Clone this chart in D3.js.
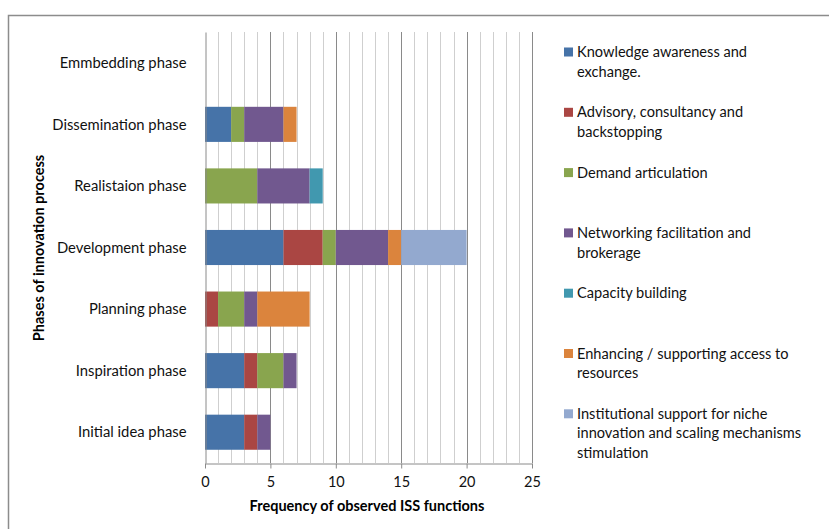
<!DOCTYPE html>
<html>
<head>
<meta charset="utf-8">
<script src="https://cdn.jsdelivr.net/npm/d3@7"></script>
<style>
  html, body { margin: 0; padding: 0; background: #fff; }
  svg { display: block; font-family: Lato, "Liberation Sans", sans-serif; }
</style>
</head>
<body>
<svg id="chart" width="829" height="529"></svg>
<script>
// Innovation phases, listed top to bottom
const phases = [
  "Emmbedding phase",
  "Dissemination phase",
  "Realistaion phase",
  "Development phase",
  "Planning phase",
  "Inspiration phase",
  "Initial idea phase"
];

// ISS function series (stack order)
const functions = [
  "Knowledge awareness and exchange.",
  "Advisory, consultancy and backstopping",
  "Demand articulation",
  "Networking facilitation and brokerage",
  "Capacity building",
  "Enhancing / supporting access to resources",
  "Institutional support for niche innovation and scaling mechanisms stimulation"
];

// Frequencies per phase, in the order of `phases`
const knowledge   = [0, 2, 0, 6, 0, 3, 3];
const advisory    = [0, 0, 0, 3, 1, 1, 1];
const demand      = [0, 1, 4, 1, 2, 2, 0];
const networking  = [0, 3, 4, 4, 1, 1, 1];
const capacity    = [0, 0, 1, 0, 0, 0, 0];
const enhancing   = [0, 1, 0, 1, 4, 0, 0];
const institution = [0, 0, 0, 5, 0, 0, 0];

const xTicks = [0, 5, 10, 15, 20, 25];

const seriesValues = [knowledge, advisory, demand, networking, capacity, enhancing, institution];
const colors = ["#4673A8", "#AA4643", "#89A54E", "#71588F", "#4198AF", "#DB843D", "#93A9CF"];

// Legend entries wrapped into lines
const legendLines = [
  ["Knowledge awareness and", "exchange."],
  ["Advisory, consultancy and", "backstopping"],
  ["Demand articulation"],
  ["Networking facilitation and", "brokerage"],
  ["Capacity building"],
  ["Enhancing / supporting access to", "resources"],
  ["Institutional support for niche", "innovation and scaling mechanisms", "stimulation"]
];

const svg = d3.select("#chart");

// Outer chart frame
svg.append("rect")
  .attr("x", 8.5).attr("y", 15.5)
  .attr("width", 900).attr("height", 600)
  .attr("fill", "none")
  .attr("stroke", "#8c8c8c")
  .attr("stroke-width", 1.5);

const plot = { left: 205, right: 532, top: 32, bottom: 463 };

const x = d3.scaleLinear().domain([0, 25]).range([plot.left, plot.right]);
const y = d3.scaleBand().domain(phases)
  .range([plot.top, plot.bottom])
  .paddingInner(0.43).paddingOuter(0.215);

// Vertical gridlines: every unit, darker at the labelled values
const grid = svg.append("g");
d3.range(1, 26).forEach(v => {
  const major = v % 5 === 0;
  grid.append("line")
    .attr("x1", Math.round(x(v)) + 0.5).attr("x2", Math.round(x(v)) + 0.5)
    .attr("y1", plot.top).attr("y2", plot.bottom)
    .attr("stroke", major ? "#8a8a8a" : "#cfcfcf")
    .attr("stroke-width", 1);
});

// Stacked bars
const table = phases.map((p, i) => {
  const row = { phase: p };
  functions.forEach((f, j) => { row[f] = seriesValues[j][i]; });
  return row;
});
const stacked = d3.stack().keys(functions)(table);

svg.append("g").selectAll("g")
  .data(stacked)
  .join("g")
  .attr("fill", (d, i) => colors[i])
  .selectAll("rect")
  .data(d => d.filter(s => s[1] - s[0] > 0))
  .join("rect")
  .attr("x", d => x(d[0]))
  .attr("width", d => x(d[1]) - x(d[0]))
  .attr("y", d => y(d.data.phase))
  .attr("height", y.bandwidth());

// X axis
const xAxis = svg.append("g")
  .attr("transform", `translate(0,${plot.bottom + 0.5})`)
  .call(d3.axisBottom(x).tickValues(xTicks).tickSize(5).tickSizeOuter(0).tickPadding(8));
xAxis.select(".domain").attr("stroke", "#8a8a8a");
xAxis.selectAll(".tick line").attr("stroke", "#8a8a8a");
xAxis.selectAll(".tick text")
  .attr("font-size", 14.5).attr("fill", "#111")
  .attr("font-family", "Lato, sans-serif");

// Y axis
const yAxis = svg.append("g")
  .attr("transform", `translate(${plot.left + 0.5},0)`)
  .call(d3.axisLeft(y).tickSize(0).tickPadding(19));
yAxis.select(".domain").attr("stroke", "#8a8a8a");
yAxis.selectAll(".tick text")
  .attr("font-size", 14.8).attr("fill", "#111")
  .attr("dy", "0.35em")
  .attr("font-family", "Lato, sans-serif");

// Axis titles
svg.append("text")
  .attr("x", 367).attr("y", 511)
  .attr("text-anchor", "middle")
  .attr("font-size", 14.5).attr("font-weight", "bold").attr("fill", "#000")
  .text("Frequency of observed ISS functions");

svg.append("text")
  .attr("transform", "translate(44,248) rotate(-90)")
  .attr("text-anchor", "middle")
  .attr("font-size", 14.5).attr("font-weight", "bold").attr("fill", "#000")
  .text("Phases of innovation process");

// Legend
const legend = svg.append("g");
const legendTop = 52, legendStep = 60.3, lineStep = 19.6;
legendLines.forEach((lines, i) => {
  const cy = legendTop + i * legendStep;
  legend.append("rect")
    .attr("x", 564).attr("y", cy - 4.5)
    .attr("width", 9).attr("height", 9)
    .attr("fill", colors[i]);
  const t = legend.append("text")
    .attr("x", 577).attr("y", cy + 5)
    .attr("font-size", 14.6).attr("fill", "#111");
  lines.forEach((ln, k) => {
    t.append("tspan").attr("x", 577).attr("dy", k === 0 ? 0 : lineStep).text(ln);
  });
});
</script>
</body>
</html>
